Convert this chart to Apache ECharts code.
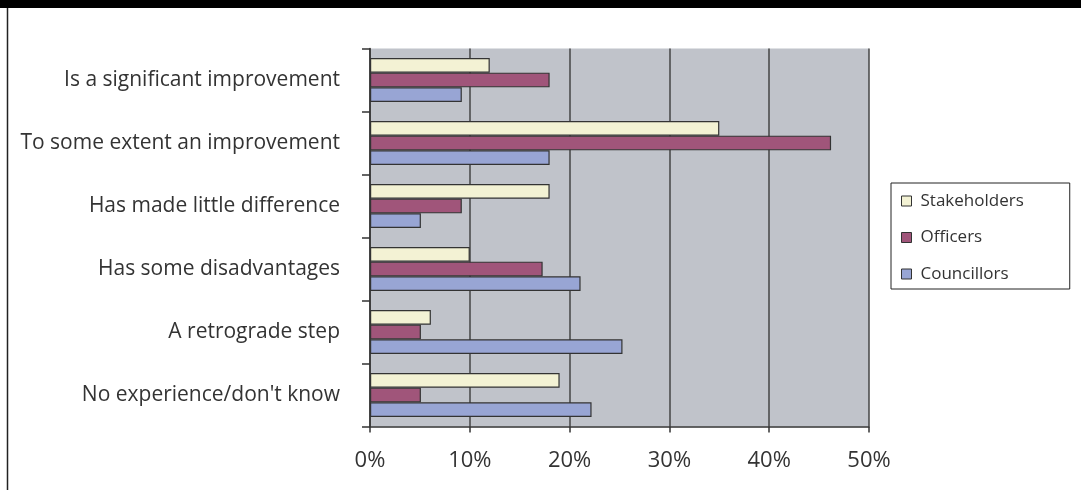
<!DOCTYPE html>
<html>
<head>
<meta charset="utf-8">
<style>
  html, body { margin: 0; padding: 0; background: #ffffff; }
  #chart { width: 1081px; height: 490px; }
</style>
<script src="https://cdn.jsdelivr.net/npm/echarts@6/dist/echarts.min.js"></script>
</head>
<body>
<div id="chart"></div>
<script>
// Survey responses (% of each group)
const categories = [
  'Is a significant improvement',
  'To some extent an improvement',
  'Has made little difference',
  'Has some disadvantages',
  'A retrograde step',
  "No experience/don't know"
];
const stakeholders = [12.0, 35.0, 18.0, 10.0, 6.1, 19.0];
const officers     = [18.0, 46.2, 9.2, 17.3, 5.1, 5.1];
const councillors  = [9.2, 18.0, 5.1, 21.1, 25.3, 22.2];
const xTicks = { min: 0, max: 50, interval: 10 };

const FONT = "'Open Sans', 'Noto Sans', sans-serif";
const colors = { Stakeholders: '#F3F2D4', Officers: '#A0557A', Councillors: '#98A5D4' };

const seriesList = [
  ['Stakeholders', stakeholders],
  ['Officers', officers],
  ['Councillors', councillors]
];

const chart = echarts.init(document.getElementById('chart'), null, { renderer: 'canvas' });

chart.setOption({
  backgroundColor: '#ffffff',
  animation: false,
  graphic: [
    { type: 'rect', shape: { x: 0, y: 0, width: 1081, height: 8 }, style: { fill: '#000000' } },
    { type: 'line', shape: { x1: 7.5, y1: 8, x2: 7.5, y2: 490 }, style: { stroke: '#222222', lineWidth: 1.5 } }
  ],
  grid: {
    left: 370, right: 212, top: 48.5, bottom: 63.5,
    show: true, backgroundColor: '#C0C3CA', borderWidth: 0
  },
  legend: {
    orient: 'vertical',
    left: 891, top: 183,
    padding: [8, 46, 5, 10],
    itemWidth: 10, itemHeight: 10, itemGap: 16.5,
    borderColor: '#222222', borderWidth: 1,
    backgroundColor: '#ffffff',
    icon: 'rect',
    textStyle: { fontFamily: FONT, fontSize: 17, color: '#333333', lineHeight: 20, padding: [0, 0, 0, 4] },
    data: seriesList.map(([name]) => ({
      name,
      itemStyle: { color: colors[name], borderColor: '#333333', borderWidth: 1 }
    }))
  },
  xAxis: {
    type: 'value',
    min: xTicks.min, max: xTicks.max, interval: xTicks.interval,
    axisLine: { show: true, lineStyle: { color: '#333333', width: 1.5 } },
    axisTick: { show: true, length: 6, lineStyle: { color: '#333333', width: 1.5 } },
    axisLabel: {
      formatter: '{value}%', margin: 23,
      fontFamily: FONT, fontSize: 22, color: '#333333'
    },
    splitLine: { show: true, lineStyle: { color: '#444444', width: 1.5 } }
  },
  yAxis: {
    type: 'category',
    data: categories,
    inverse: true,
    axisLine: { show: true, lineStyle: { color: '#333333', width: 1.5 } },
    axisTick: { show: true, length: 8, lineStyle: { color: '#333333', width: 1.5 } },
    axisLabel: { margin: 30, fontFamily: FONT, fontSize: 21, color: '#333333' },
    splitLine: { show: false }
  },
  series: seriesList.map(([name, values]) => ({
    name,
    type: 'bar',
    data: values,
    barGap: '0%',
    barCategoryGap: '30%',
    itemStyle: { color: colors[name], borderColor: '#333333', borderWidth: 1.2 }
  }))
});
</script>
</body>
</html>
